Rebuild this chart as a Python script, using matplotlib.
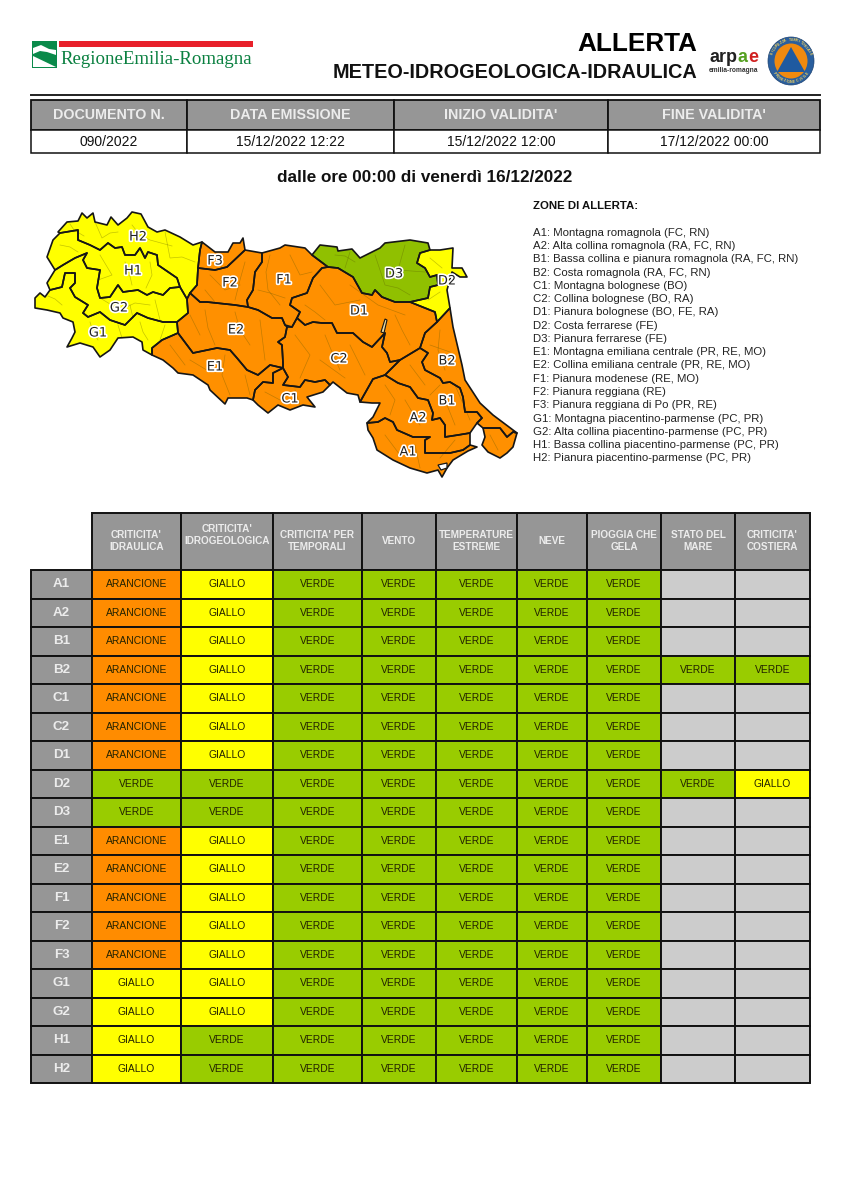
import numpy as np
import matplotlib
matplotlib.use("Agg")
import matplotlib.pyplot as plt
import matplotlib.patheffects as pe
from matplotlib.patches import Rectangle, Polygon, Ellipse

plt.rcParams["font.family"] = ["Liberation Sans", "DejaVu Sans"]

# top strip
doc_headers = ["DOCUMENTO N.", "DATA EMISSIONE", "INIZIO VALIDITA'", "FINE VALIDITA'"]
doc_values = ["090/2022", "15/12/2022 12:22", "15/12/2022 12:00", "17/12/2022 00:00"]
doc_edges = [31, 187, 394, 608, 820]

# zone list
zone_lines = [
    "A1: Montagna romagnola (FC, RN)",
    "A2: Alta collina romagnola (RA, FC, RN)",
    "B1: Bassa collina e pianura romagnola (RA, FC, RN)",
    "B2: Costa romagnola (RA, FC, RN)",
    "C1: Montagna bolognese (BO)",
    "C2: Collina bolognese (BO, RA)",
    "D1: Pianura bolognese (BO, FE, RA)",
    "D2: Costa ferrarese (FE)",
    "D3: Pianura ferrarese (FE)",
    "E1: Montagna emiliana centrale (PR, RE, MO)",
    "E2: Collina emiliana centrale (PR, RE, MO)",
    "F1: Pianura modenese (RE, MO)",
    "F2: Pianura reggiana (RE)",
    "F3: Pianura reggiana di Po (PR, RE)",
    "G1: Montagna piacentino-parmense (PC, PR)",
    "G2: Alta collina piacentino-parmense (PC, PR)",
    "H1: Bassa collina piacentino-parmense (PC, PR)",
    "H2: Pianura piacentino-parmense (PC, PR)",
]

# table
rows = ["A1", "A2", "B1", "B2", "C1", "C2", "D1", "D2", "D3",
        "E1", "E2", "F1", "F2", "F3", "G1", "G2", "H1", "H2"]
col_headers = ["CRITICITA'\nIDRAULICA", "CRITICITA'\nIDROGEOLOGICA", "CRITICITA' PER\nTEMPORALI",
               "VENTO", "TEMPERATURE\nESTREME", "NEVE", "PIOGGIA CHE\nGELA",
               "STATO DEL\nMARE", "CRITICITA'\nCOSTIERA"]
col_edges = [31, 92, 181, 273, 362, 436, 517, 587, 661, 735, 810]

O, Y, G = "ARANCIONE", "GIALLO", "VERDE"
idraulica = [O, O, O, O, O, O, O, G, G, O, O, O, O, O, Y, Y, Y, Y]
idrogeologica = [Y, Y, Y, Y, Y, Y, Y, G, G, Y, Y, Y, Y, Y, Y, Y, G, G]
temporali = [G] * 18
vento = [G] * 18
temperature = [G] * 18
neve = [G] * 18
pioggia = [G] * 18
mare = [None, None, None, G, None, None, None, G, None,
        None, None, None, None, None, None, None, None, None]
costiera = [None, None, None, G, None, None, None, Y, None,
            None, None, None, None, None, None, None, None, None]
columns = [idraulica, idrogeologica, temporali, vento, temperature, neve, pioggia, mare, costiera]

cell_colors = {O: "#ff8c00", Y: "#ffff00", G: "#99cc00", None: "#cccccc"}
map_colors = {O: "#ff9000", Y: "#ffff00", G: "#90c000"}

# zone outlines
zone_h2 = [(58,232),(67,222),(78,221),(82,213),(87,218),(93,213),(95,222),(107,225),(111,217),(118,225),(127,218),
           (132,212),(141,214),(148,227),(157,232),(165,230),(180,237),(193,245),(202,242),(200,250),(198,268),
           (197,285),(190,293),(187,299),(180,287),(177,278),(158,265),(157,255),(148,252),(145,258),(140,248),
           (135,255),(125,255),(122,247),(115,248),(108,243),(100,250),(90,245),(78,240),(78,230),(60,233)]
zone_h1 = [(60,233),(78,230),(78,240),(90,245),(100,250),(108,243),(115,248),(122,247),(125,255),(135,255),(140,248),
           (145,258),(148,252),(157,255),(158,265),(177,278),(180,287),(170,288),(163,295),(153,292),(147,295),
           (138,290),(123,292),(118,285),(110,297),(100,298),(97,288),(100,270),(87,268),(83,260),(87,253),(75,258),
           (63,265),(55,270),(47,257),(53,240)]
zone_g2 = [(47,283),(55,270),(63,265),(75,258),(87,253),(83,260),(87,268),(100,270),(97,288),(100,298),(110,297),
           (118,285),(123,292),(138,290),(147,295),(153,292),(163,295),(170,288),(180,287),(187,299),(188,313),
           (177,322),(163,322),(148,318),(137,313),(125,325),(110,320),(100,312),(88,317),(83,313),(88,305),(75,297),
           (70,288),(75,283),(75,273),(65,273),(62,287),(50,290)]
zone_g1 = [(35,298),(40,293),(45,297),(50,290),(62,287),(65,273),(75,273),(75,283),(70,288),(75,297),(88,305),(83,313),
           (88,317),(100,312),(110,320),(125,325),(137,313),(148,318),(163,322),(177,322),(178,333),(162,340),(152,348),
           (152,355),(143,350),(142,342),(133,337),(118,338),(110,350),(100,357),(93,347),(80,343),(67,347),(72,338),
           (75,332),(73,322),(63,318),(60,313),(47,310),(35,308)]
zone_f3 = [(202,242),(215,252),(228,252),(233,243),(240,243),(243,238),(245,250),(227,267),(215,270),(198,268),(200,250)]
zone_f2 = [(198,268),(215,270),(227,267),(245,250),(262,253),(262,262),(255,272),(253,290),(247,300),(248,307),(235,305),
           (207,302),(200,302),(190,293),(197,285)]
zone_f1 = [(262,253),(280,248),(285,245),(305,248),(312,255),(328,267),(322,268),(313,278),(307,293),(292,298),(290,305),
           (300,312),(297,318),(292,327),(285,325),(282,318),(272,318),(258,310),(248,307),(247,300),(253,290),(255,272),
           (262,262)]
zone_d3 = [(312,255),(320,245),(337,247),(338,251),(352,249),(360,258),(380,248),(385,243),(410,240),(428,243),(430,250),
           (420,253),(417,263),(425,268),(430,277),(437,275),(438,285),(430,287),(428,298),(410,302),(395,302),(382,297),
           (375,290),(372,295),(362,293),(353,277),(338,268),(328,267)]
zone_d2 = [(430,250),(440,250),(453,248),(452,268),(462,268),(467,277),(460,277),(452,272),(447,290),(450,308),(437,322),
           (435,312),(410,302),(428,298),(430,287),(438,285),(437,275),(430,277),(425,268),(417,263),(420,253)]
zone_d1 = [(328,267),(338,268),(353,277),(362,293),(372,295),(375,290),(382,297),(395,302),(410,302),(435,312),(437,322),
           (425,333),(420,348),(400,360),(390,362),(387,353),(382,347),(385,333),(372,347),(363,342),(353,333),(337,333),
           (332,323),(322,323),(313,322),(305,325),(297,318),(300,312),(290,305),(292,298),(307,293),(313,278),(322,268)]
zone_b2 = [(437,322),(450,308),(453,327),(462,365),(465,380),(480,403),(493,415),(517,433),(513,432),(507,437),(500,428),
           (483,428),(477,423),(482,418),(477,412),(465,412),(463,397),(460,388),(450,382),(443,383),(440,378),(425,370),
           (422,362),(428,353),(420,348),(425,333)]
zone_b1 = [(400,360),(420,348),(428,353),(422,362),(425,370),(440,378),(443,383),(450,382),(460,388),(463,397),(465,412),
           (477,412),(482,418),(477,423),(470,433),(458,435),(445,437),(445,425),(440,418),(432,420),(433,413),(428,400),
           (418,398),(410,387),(398,383),(385,375)]
zone_a2 = [(360,402),(373,379),(385,375),(398,383),(410,387),(418,398),(428,400),(433,413),(432,420),(440,418),(445,425),
           (445,437),(458,435),(470,433),(470,445),(463,450),(450,453),(437,453),(425,453),(425,440),(430,437),(413,437),
           (397,430),(393,422),(385,418),(378,422),(367,423),(373,417),(380,403),(372,403)]
zone_a1 = [(367,423),(378,422),(385,418),(393,422),(397,430),(413,437),(430,437),(425,440),(425,453),(437,453),(450,453),
           (463,450),(470,445),(477,447),(468,451),(453,460),(447,468),(442,477),(438,470),(427,473),(410,468),(393,460),
           (377,450),(373,438),(368,430)]
zone_rn = [(483,428),(500,428),(507,437),(513,432),(517,433),(513,447),(507,453),(500,458),(488,452),(482,445),(485,437)]
zone_c2 = [(287,327),(292,327),(297,318),(305,325),(313,322),(322,323),(332,323),(337,333),(353,333),(363,342),(372,347),
           (385,333),(382,347),(387,353),(390,362),(400,360),(385,375),(373,379),(360,402),(358,395),(347,393),(333,382),(330,385),
           (325,380),(315,382),(305,380),(300,387),(283,385),(288,377),(283,368),(283,363),(282,345),(278,342),(285,337)]
zone_c1 = [(283,385),(300,387),(305,380),(315,382),(325,380),(330,385),(323,392),(307,397),(315,407),(303,405),(290,410),
           (278,405),(268,413),(258,405),(253,400),(255,390),(263,382),(273,383),(273,373),(283,368),(288,377)]
zone_e1 = [(178,333),(193,353),(217,348),(230,350),(237,358),(247,370),(258,375),(270,365),(283,368),(273,373),(273,383),
           (263,382),(255,390),(253,400),(247,398),(228,398),(225,404),(210,390),(208,385),(193,375),(178,373),(173,368),
           (163,360),(152,355),(152,348),(162,340)]
zone_e2 = [(187,299),(190,293),(200,302),(207,302),(235,305),(248,307),(258,310),(272,318),(282,318),(285,325),(287,327),
           (285,337),(278,342),(282,345),(283,363),(283,368),(270,365),(258,375),(247,370),(237,358),(230,350),(217,348),
           (193,353),(178,333),(177,322),(188,313)]

zones = [(zone_h2, Y), (zone_h1, Y), (zone_g2, Y), (zone_g1, Y), (zone_f3, O), (zone_f2, O), (zone_f1, O),
         (zone_d3, G), (zone_d2, Y), (zone_d1, O), (zone_b2, O), (zone_b1, O), (zone_a2, O), (zone_a1, O),
         (zone_rn, O), (zone_c2, O), (zone_c1, O), (zone_e1, O), (zone_e2, O)]

# comuni borders, thin lines inside the zones
comuni = [
    [(70,224),(74,230),(84,236)], [(95,222),(102,238),(110,233),(118,232)], [(132,225),(140,235),(150,240),(172,246)],
    [(165,232),(170,258),(182,257),(195,262)], [(60,245),(70,247),(78,252)], [(100,255),(112,275),(98,280)],
    [(125,262),(129,272),(132,285)], [(150,262),(152,275),(146,288)], [(100,298),(120,310),(135,303),(150,305)],
    [(155,300),(160,320)], [(130,305),(133,318)], [(48,296),(55,299),(62,305)], [(90,322),(93,332),(98,340)],
    [(118,325),(122,338)], [(140,322),(143,332),(148,340)], [(165,325),(160,340)],
    [(210,275),(225,290),(240,285)], [(245,262),(240,280),(235,300)], [(205,290),(215,302)], [(218,255),(222,268)],
    [(270,255),(266,272),(268,290),(280,305)], [(290,255),(300,275),(312,272)], [(258,290),(270,293),(285,298)],
    [(335,255),(345,256),(355,262)], [(375,255),(385,285),(398,288),(410,295)], [(405,245),(398,270),(425,272)],
    [(345,268),(350,252)], [(430,258),(442,268)], [(440,292),(428,300)],
    [(320,285),(335,305),(360,300)], [(350,285),(378,305),(405,315)], [(395,315),(402,330),(410,345)],
    [(305,305),(315,312),(325,320)], [(440,330),(438,350),(445,370)], [(455,385),(470,420)], [(430,345),(450,352)],
    [(440,385),(430,395)], [(410,365),(425,385)], [(445,400),(455,425)], [(385,385),(395,400),(390,415)],
    [(405,400),(420,425)], [(385,435),(400,455)], [(415,445),(420,468)], [(440,458),(455,440)], [(490,435),(498,450)],
    [(295,335),(310,355),(300,378)], [(325,335),(332,352),(340,370)], [(350,345),(365,375)], [(320,360),(345,378)],
    [(265,392),(280,400)], [(295,390),(300,405)], [(190,360),(210,372)], [(225,355),(222,375),(230,395)],
    [(245,375),(250,395)], [(170,345),(185,365)], [(205,310),(208,328),(215,345)], [(235,312),(240,330),(250,345)],
    [(260,320),(265,360)], [(190,315),(200,335)],
]

# small bits of the map
white_notch = [(438,465),(447,463),(447,468),(441,470)]
slit = [(385,319),(387,320),(384,333),(381,332)]

labels = ["H2", "H1", "G2", "G1", "F3", "F2", "F1", "E2", "E1", "D1", "D2", "D3", "C2", "C1", "B2", "B1", "A2", "A1"]
label_x = [138, 133, 119, 98, 215, 230, 284, 236, 215, 359, 447, 394, 339, 290, 447, 447, 418, 408]
label_y = [237, 271, 308, 333, 261, 283, 280, 330, 367, 311, 281, 274, 359, 399, 361, 401, 418, 452]

ring_top = "SICUREZZA TERRITORIALE"
ring_bottom = "PROTEZIONE CIVILE"

GRAY = "#969696"
HEAD_TXT = "#ececec"

fig = plt.figure(figsize=(8.48, 12), dpi=100)
ax = fig.add_axes([0, 0, 1, 1])
ax.set_xlim(0, 848)
ax.set_ylim(1200, 0)
ax.axis("off")


def cell(x0, x1, y0, y1, color, lw=1.4):
    ax.add_patch(Rectangle((x0, y0), x1 - x0, y1 - y0, facecolor=color, edgecolor="#111111", linewidth=lw, zorder=2))


# logo regione
ax.add_patch(Rectangle((59, 41), 194, 6, color="#e8202a", lw=0))
ax.add_patch(Rectangle((32, 41), 25, 27, color="#0a8a4a", lw=0))
ax.add_patch(Polygon([(33, 48), (41, 45), (49, 49), (56, 50), (56, 55), (47, 52), (40, 51), (33, 54)], color="white", lw=0))
ax.add_patch(Polygon([(33, 56), (56, 67), (33, 67)], color="white", lw=0))
ax.text(60, 60, "RegioneEmilia-Romagna", family="Liberation Serif", fontsize=13.6, color="#0a8040", va="center", ha="left")

# title
ax.text(697, 44, "ALLERTA", fontsize=18.8, fontweight="bold", ha="right", va="center", color="black")
ax.text(697, 72, "METEO-IDROGEOLOGICA-IDRAULICA", fontsize=14.35, fontweight="bold", ha="right", va="center", color="#111111")

# logo arpae
for letter, lx, lc in zip("arpae", [709, 719, 726, 737, 748], ["#222222", "#222222", "#222222", "#55a020", "#d02020"]):
    ax.text(lx, 57, letter, fontsize=13, fontweight="bold", color=lc, ha="left", va="center")
ax.text(733.5, 71, "emilia-romagna", fontsize=4.8, fontweight="bold", color="#333333", ha="center", va="center")

# logo protezione civile
ax.add_patch(Ellipse((791, 61), 46, 48, facecolor="#2a5f9e", edgecolor="#1a4070", lw=0.5))
ax.add_patch(Ellipse((791, 61), 33, 35, facecolor="#f08a10", lw=0))
ax.add_patch(Polygon([(791, 47), (805, 72), (777, 72)], color="#1f5aa0", lw=0))
for k, ch in enumerate(ring_top):
    ang = np.radians(-160 + k * 140 / (len(ring_top) - 1))
    ax.text(791 + 20 * np.cos(ang), 61 + 21 * np.sin(ang), ch, fontsize=2.6, color="#f0d060", fontweight="bold",
            ha="center", va="center", rotation=-np.degrees(ang) - 90)
for k, ch in enumerate(ring_bottom):
    ang = np.radians(145 - k * 110 / (len(ring_bottom) - 1))
    ax.text(791 + 20 * np.cos(ang), 61 + 21 * np.sin(ang), ch, fontsize=2.6, color="#f0d060", fontweight="bold",
            ha="center", va="center", rotation=90 - np.degrees(ang))

ax.plot([31, 820], [95, 95], color="#222222", lw=1.4)

# documento table
for i in range(4):
    cell(doc_edges[i], doc_edges[i + 1], 100, 130, GRAY, lw=1.3)
    cell(doc_edges[i], doc_edges[i + 1], 130, 153, "white", lw=1.1)
    xc = (doc_edges[i] + doc_edges[i + 1]) / 2
    ax.text(xc, 115, doc_headers[i], fontsize=10.3, fontweight="bold", color=HEAD_TXT, ha="center", va="center", zorder=3)
    ax.text(xc, 141.5, doc_values[i], fontsize=10, color="#111111", ha="center", va="center", zorder=3)

ax.text(424.5, 177, "dalle ore 00:00 di venerdì 16/12/2022", fontsize=12.35, fontweight="bold", ha="center", va="center", color="#111111")

# map
for pts, level in zones:
    ax.add_patch(Polygon(pts, closed=True, facecolor=map_colors[level], edgecolor="none", zorder=3))
for line in comuni:
    xs, ys = zip(*line)
    ax.plot(xs, ys, color="#555500", alpha=0.35, lw=0.5, zorder=4)
for pts, level in zones:
    ax.add_patch(Polygon(pts, closed=True, facecolor="none", edgecolor="#161616", linewidth=1.2, joinstyle="round", zorder=5))
ax.add_patch(Polygon(white_notch, closed=True, facecolor="white", edgecolor="#161616", linewidth=0.9, zorder=6))
ax.add_patch(Polygon(slit, closed=True, facecolor="#e8d8a0", edgecolor="#161616", linewidth=0.8, zorder=6))
for lab, lx, ly in zip(labels, label_x, label_y):
    ax.text(lx, ly, lab, family="DejaVu Sans", fontsize=9.3, color="#222222", ha="center", va="center", zorder=7,
            path_effects=[pe.withStroke(linewidth=2.4, foreground="white")])

# zone list
ax.text(533, 206, "ZONE DI ALLERTA:", fontsize=8.2, fontweight="bold", color="#111111", ha="left", va="center")
for i, line in enumerate(zone_lines):
    ax.text(533, 232.7 + i * 13.28, line, fontsize=8.2, color="#222222", ha="left", va="center")

# alert table
for j, head in enumerate(col_headers):
    x0, x1 = col_edges[j + 1], col_edges[j + 2]
    cell(x0, x1, 513, 570, GRAY)
    yc = 535 if j == 1 else 541
    ax.text((x0 + x1) / 2, yc, head, fontsize=7.2, fontweight="bold", color=HEAD_TXT, ha="center", va="center",
            linespacing=1.15, zorder=3)

row_h = 28.5
for i, r in enumerate(rows):
    y0 = 570 + i * row_h
    y1 = y0 + row_h
    cell(col_edges[0], col_edges[1], y0, y1, GRAY)
    ax.text((col_edges[0] + col_edges[1]) / 2, (y0 + y1) / 2, r, fontsize=9.6, fontweight="bold", color=HEAD_TXT,
            ha="center", va="center", zorder=3)
    for j, col in enumerate(columns):
        x0, x1 = col_edges[j + 1], col_edges[j + 2]
        cell(x0, x1, y0, y1, cell_colors[col[i]])
        if col[i] is not None:
            ax.text((x0 + x1) / 2, (y0 + y1) / 2, col[i], fontsize=7.4, color="#222200", ha="center", va="center", zorder=3)

fig.savefig("out.png", dpi=100)
